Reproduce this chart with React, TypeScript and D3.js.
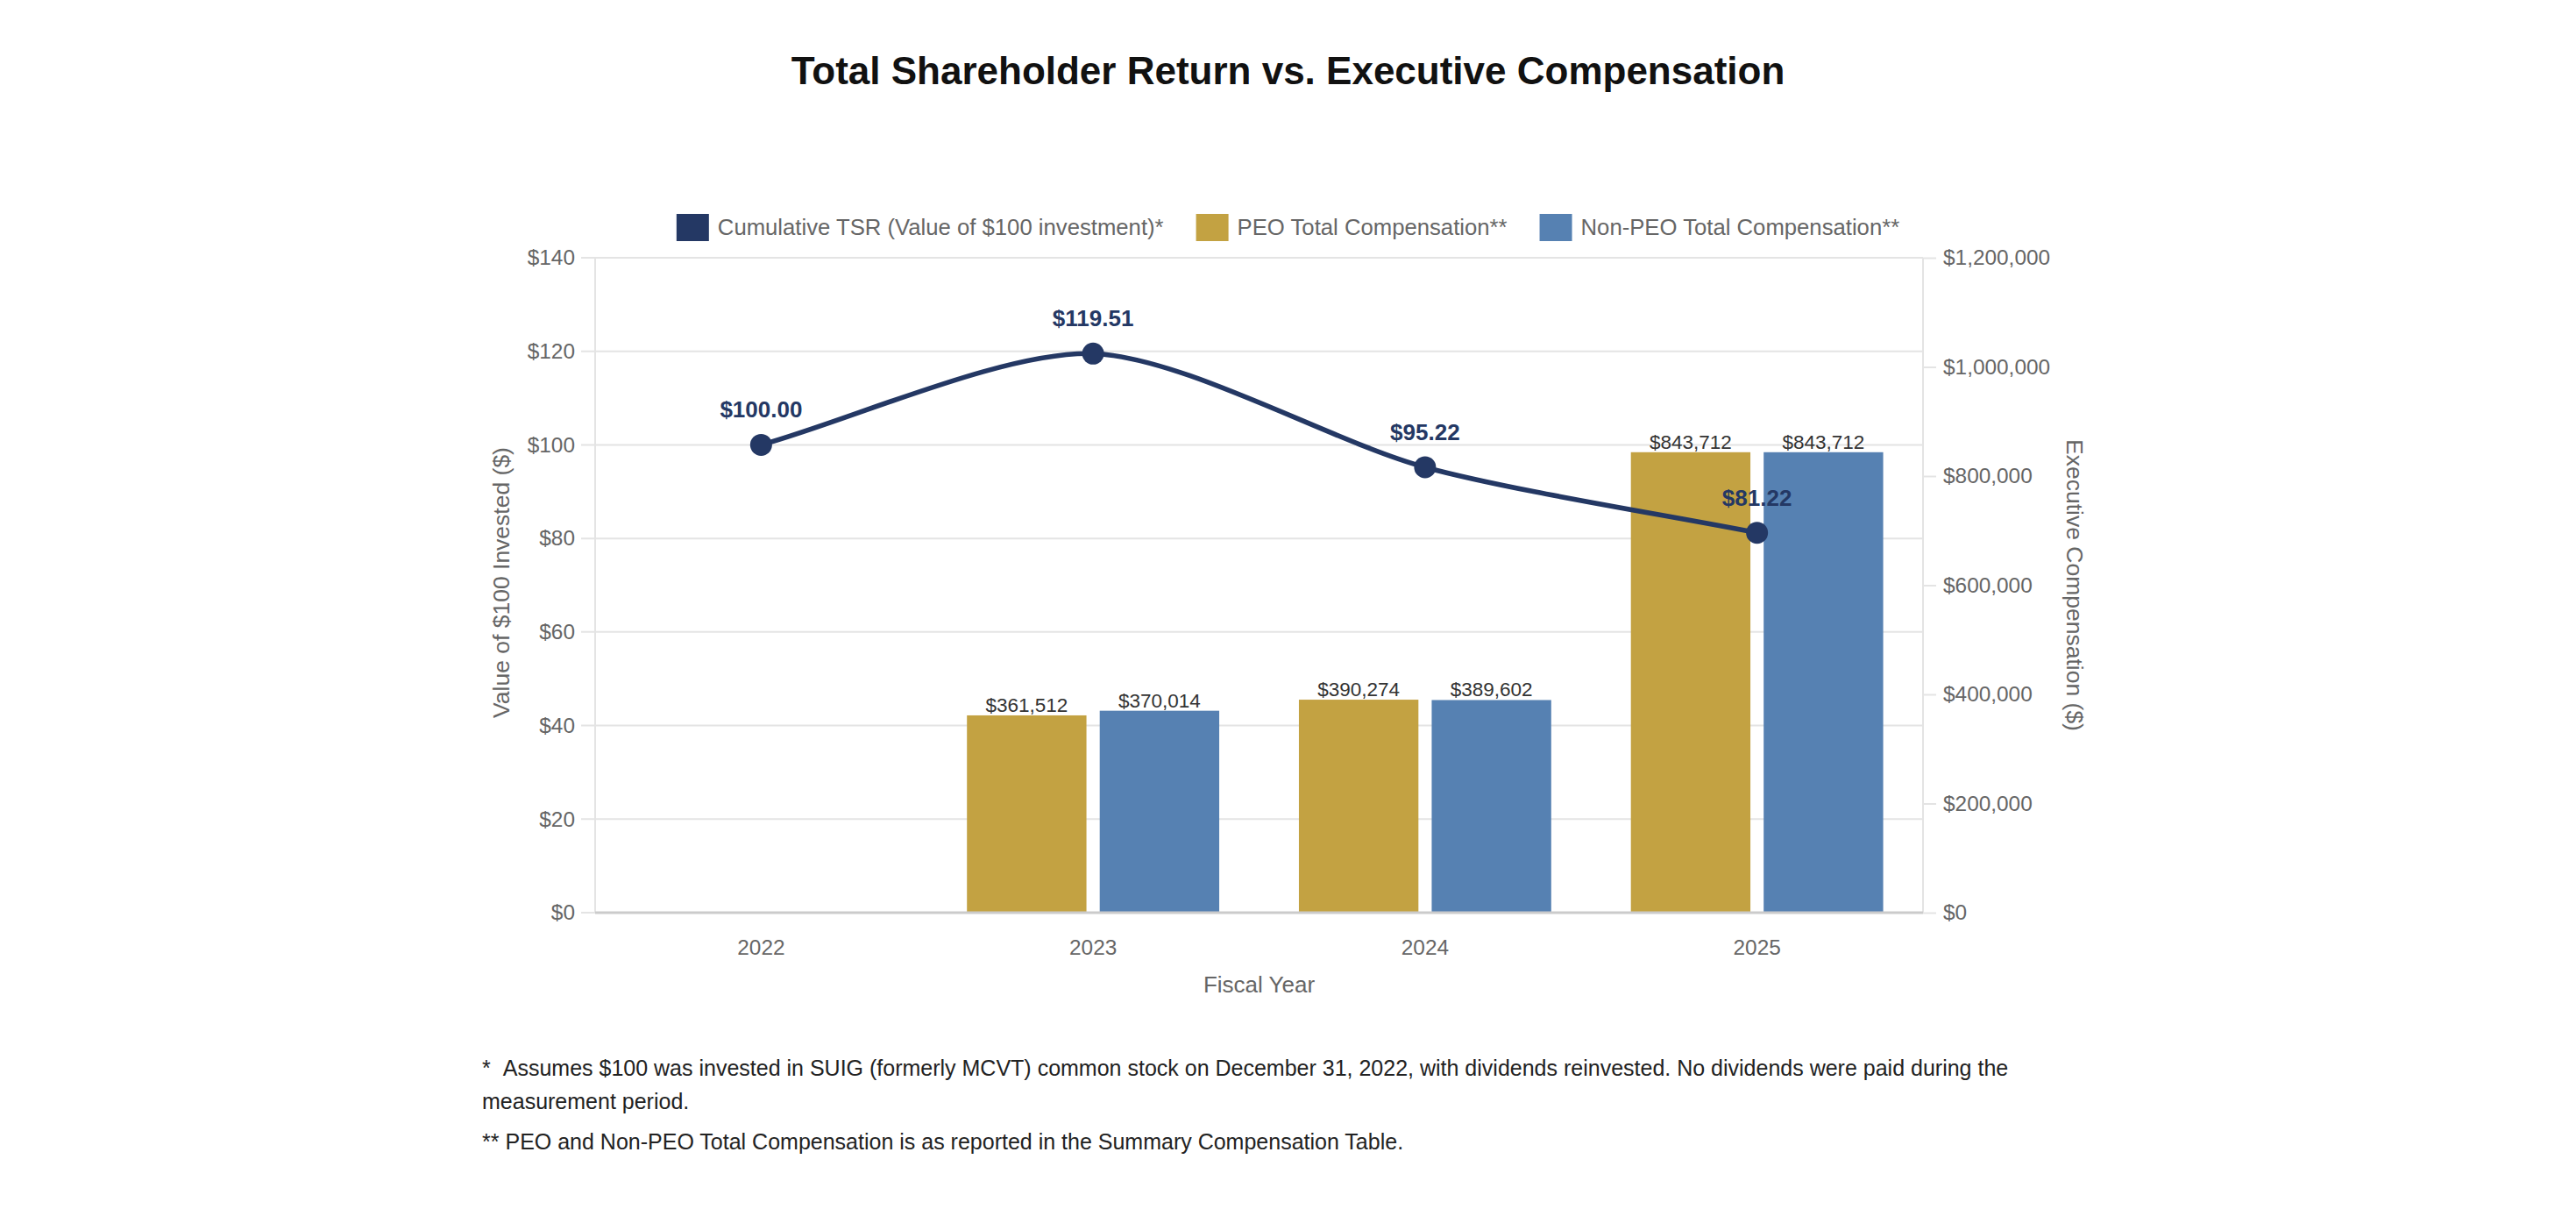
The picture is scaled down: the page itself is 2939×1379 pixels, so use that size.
// @ts-nocheck
import React, { useEffect, useRef } from 'react';
import * as d3 from 'd3';

// chart data
const years = ['2022', '2023', '2024', '2025'];
const tsrValues = [100.0, 119.51, 95.22, 81.22];
const peoComp = [null, 361512, 390274, 843712];
const nonPeoComp = [null, 370014, 389602, 843712];
const seriesNames = [
    'Cumulative TSR (Value of $100 investment)*',
    'PEO Total Compensation**',
    'Non-PEO Total Compensation**',
];
const tsrDomain = [0, 140];
const compDomain = [0, 1200000];
const chartTitle = 'Total Shareholder Return vs. Executive Compensation';
const footnotes = [
    ['*', 'Assumes $100 was invested in SUIG (formerly MCVT) common stock on December 31, 2022, with dividends reinvested. No dividends were paid during the'],
    ['', 'measurement period.'],
    ['**', 'PEO and Non-PEO Total Compensation is as reported in the Summary Compensation Table.'],
];

const NAVY = '#243864';
const GOLD = '#c3a242';
const BLUE = '#5681b2';
const FONT = "'Liberation Sans', Arial, Helvetica, sans-serif";

// spline with tension, same control points as a canvas chart lib uses
const tensionPath = (points, t) => {
    const cps = points.map((p, i) => {
        const prev = points[i - 1] || p;
        const next = points[i + 1] || p;
        const d01 = Math.hypot(p[0] - prev[0], p[1] - prev[1]);
        const d12 = Math.hypot(next[0] - p[0], next[1] - p[1]);
        let s01 = d01 / (d01 + d12);
        let s12 = d12 / (d01 + d12);
        if (isNaN(s01)) s01 = 0;
        if (isNaN(s12)) s12 = 0;
        const fa = t * s01, fb = t * s12;
        return {
            prev: [p[0] - fa * (next[0] - prev[0]), p[1] - fa * (next[1] - prev[1])],
            next: [p[0] + fb * (next[0] - prev[0]), p[1] + fb * (next[1] - prev[1])],
        };
    });
    const path = d3.path();
    path.moveTo(points[0][0], points[0][1]);
    for (let i = 1; i < points.length; i++) {
        path.bezierCurveTo(cps[i - 1].next[0], cps[i - 1].next[1], cps[i].prev[0], cps[i].prev[1], points[i][0], points[i][1]);
    }
    return path.toString();
};

const drawChart = (node) => {
    const W = 2939, H = 1379;
    const left = 679, right = 2194, top = 294, bottom = 1041;
    const tickFont = 24.4;

    const svg = d3.select(node);
    svg.selectAll('*').remove();
    svg.attr('width', W).attr('height', H).style('font-family', FONT);

    svg.append('rect').attr('width', W).attr('height', H).attr('fill', '#fff');

    // title
    svg.append('text')
        .attr('x', W / 2)
        .attr('y', 96)
        .attr('text-anchor', 'middle')
        .attr('font-size', 44)
        .attr('font-weight', 'bold')
        .attr('fill', '#111')
        .text(chartTitle);

    // scales
    const x0 = d3.scaleBand().domain(years).range([left, right]);
    const x1 = d3.scaleBand()
        .domain(['peo', 'nonpeo'])
        .range([x0.bandwidth() * 0.1, x0.bandwidth() * 0.9])
        .paddingInner(0.1)
        .paddingOuter(0.05);
    const y = d3.scaleLinear().domain(tsrDomain).range([bottom, top]);
    const yR = d3.scaleLinear().domain(compDomain).range([bottom, top]);

    // grid lines (left axis)
    svg.append('g')
        .selectAll('line')
        .data(y.ticks(7))
        .join('line')
        .attr('x1', left - 16)
        .attr('x2', right)
        .attr('y1', d => y(d))
        .attr('y2', d => y(d))
        .attr('stroke', '#e4e4e4')
        .attr('stroke-width', 2);

    // vertical borders
    svg.append('line').attr('x1', left).attr('x2', left).attr('y1', top).attr('y2', bottom)
        .attr('stroke', '#e4e4e4').attr('stroke-width', 2);
    svg.append('line').attr('x1', right).attr('x2', right).attr('y1', top).attr('y2', bottom)
        .attr('stroke', '#e4e4e4').attr('stroke-width', 2);

    // left axis labels
    const gl = svg.append('g')
        .attr('transform', `translate(${left},0)`)
        .call(d3.axisLeft(y).ticks(7).tickSize(16).tickPadding(7).tickFormat(d => `$${d}`));
    gl.select('.domain').remove();
    gl.selectAll('line').remove();
    gl.selectAll('text').attr('font-size', tickFont).attr('fill', '#666').attr('font-family', FONT);

    // right axis
    const gr = svg.append('g')
        .attr('transform', `translate(${right},0)`)
        .call(d3.axisRight(yR).ticks(6).tickSize(15).tickPadding(8).tickFormat(d => '$' + d3.format(',')(d)));
    gr.select('.domain').remove();
    gr.selectAll('line').attr('stroke', '#e4e4e4').attr('stroke-width', 2);
    gr.selectAll('text').attr('font-size', tickFont).attr('fill', '#666').attr('font-family', FONT);

    // bottom axis
    const gb = svg.append('g')
        .attr('transform', `translate(0,${bottom})`)
        .call(d3.axisBottom(x0).tickSize(0).tickPadding(31));
    gb.select('.domain').remove();
    gb.selectAll('text').attr('font-size', tickFont).attr('fill', '#666').attr('font-family', FONT);

    // bars
    const barData = years.map((yr, i) => [
        { yr, key: 'peo', v: peoComp[i], color: GOLD },
        { yr, key: 'nonpeo', v: nonPeoComp[i], color: BLUE },
    ]).flat().filter(d => d.v != null);

    svg.append('g')
        .selectAll('rect')
        .data(barData)
        .join('rect')
        .attr('x', d => x0(d.yr) + x1(d.key))
        .attr('y', d => yR(d.v))
        .attr('width', x1.bandwidth())
        .attr('height', d => bottom - yR(d.v))
        .attr('fill', d => d.color);

    // bottom axis line
    svg.append('line').attr('x1', left).attr('x2', right).attr('y1', bottom).attr('y2', bottom)
        .attr('stroke', '#cbcbcb').attr('stroke-width', 3);

    // bar labels
    svg.append('g')
        .selectAll('text')
        .data(barData)
        .join('text')
        .attr('x', d => x0(d.yr) + x1(d.key) + x1.bandwidth() / 2)
        .attr('y', d => yR(d.v) - 4)
        .attr('text-anchor', 'middle')
        .attr('font-size', 22.5)
        .attr('fill', '#333')
        .text(d => '$' + d3.format(',')(d.v));

    // TSR line
    const pts = years.map((yr, i) => ({ yr, v: tsrValues[i] }));
    const px = d => x0(d.yr) + x0.bandwidth() / 2;
    svg.append('path')
        .attr('fill', 'none')
        .attr('stroke', NAVY)
        .attr('stroke-width', 5.6)
        .attr('d', tensionPath(pts.map(d => [px(d), y(d.v)]), 0.27));

    svg.append('g')
        .selectAll('circle')
        .data(pts)
        .join('circle')
        .attr('cx', px)
        .attr('cy', d => y(d.v))
        .attr('r', 12.5)
        .attr('fill', NAVY);

    svg.append('g')
        .selectAll('text')
        .data(pts)
        .join('text')
        .attr('x', px)
        .attr('y', d => y(d.v) - 31)
        .attr('text-anchor', 'middle')
        .attr('font-size', 26)
        .attr('font-weight', 'bold')
        .attr('fill', NAVY)
        .text(d => '$' + d.v.toFixed(2));

    // axis titles
    svg.append('text')
        .attr('transform', `translate(574,${(top + bottom) / 2 - 3}) rotate(-90)`)
        .attr('text-anchor', 'middle')
        .attr('dominant-baseline', 'middle')
        .attr('font-size', 26.5)
        .attr('fill', '#666')
        .text('Value of $100 Invested ($)');
    svg.append('text')
        .attr('transform', `translate(2365,${(top + bottom) / 2}) rotate(90)`)
        .attr('text-anchor', 'middle')
        .attr('dominant-baseline', 'middle')
        .attr('font-size', 26.5)
        .attr('fill', '#666')
        .text('Executive Compensation ($)');
    svg.append('text')
        .attr('x', (left + right) / 2)
        .attr('y', 1132)
        .attr('text-anchor', 'middle')
        .attr('font-size', 26)
        .attr('fill', '#666')
        .text('Fiscal Year');

    // legend
    const legend = svg.append('g');
    const colors = [NAVY, GOLD, BLUE];
    let cx = 0;
    seriesNames.forEach((name, i) => {
        const g = legend.append('g').attr('transform', `translate(${cx},0)`);
        g.append('rect').attr('x', 0).attr('y', -15).attr('width', 37).attr('height', 31).attr('fill', colors[i]);
        const t = g.append('text')
            .attr('x', 47)
            .attr('y', 0)
            .attr('dominant-baseline', 'central')
            .attr('font-size', 25.7)
            .attr('fill', '#666')
            .text(name);
        cx += 47 + t.node().getComputedTextLength() + 37;
    });
    const legendW = cx - 37;
    legend.attr('transform', `translate(${W / 2 - legendW / 2},259)`);

    // footnotes
    const notes = svg.append('g');
    const noteY = [1227, 1265, 1311];
    footnotes.forEach((f, i) => {
        const t = notes.append('text')
            .attr('x', 550)
            .attr('y', noteY[i])
            .attr('font-size', 25)
            .attr('fill', '#222');
        if (f[0]) {
            t.append('tspan').text(f[0]);
            t.append('tspan').attr('dx', f[0] === '*' ? 14 : 7).text(f[1]);
        } else {
            t.text(f[1]);
        }
    });
};

export default function App() {
    const ref = useRef(null);
    useEffect(() => {
        document.body.style.margin = '0';
        drawChart(ref.current);
    }, []);
    return <svg ref={ref} style={{ display: 'block' }} />;
}
